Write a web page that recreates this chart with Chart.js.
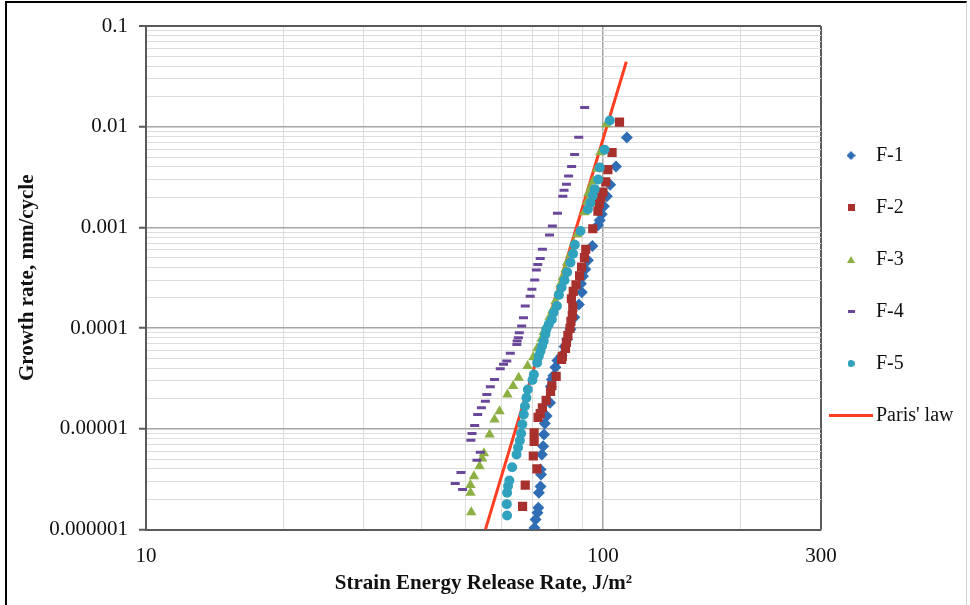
<!DOCTYPE html>
<html lang="en">
  <head>
    <meta charset="utf-8">
    <title>Growth rate vs strain energy release rate</title>
    <script src="https://cdn.jsdelivr.net/npm/chart.js@4.4.1/dist/chart.umd.min.js"></script>
    <style>
      body { margin: 0; background: #fff; }
      #wrap { position: relative; width: 970px; height: 605px; }
      #frame { position: absolute; left: 5px; top: 1px; width: 959px; height: 604px;
               border-left: 2px solid #000; border-top: 2px solid #000; border-right: 1px solid #d0d0d0;
               pointer-events: none; }
    </style>
  </head>
  <body>
    <div id="wrap">
      <canvas id="myChart" width="970" height="605"></canvas>
      <div id="frame"></div>
    </div>
    <script>
      // axis ticks
      const xTickValues = [10, 100, 300];
      const xTickLabels = ['10', '100', '300'];
      const yTickValues = [0.000001, 0.00001, 0.0001, 0.001, 0.01, 0.1];
      const yTickLabels = ['0.000001', '0.00001', '0.0001', '0.001', '0.01', '0.1'];

      // series
      const seriesNames = ['F-1', 'F-2', 'F-3', 'F-4', 'F-5', "Paris' law"];

      const f1X = [112.8, 106.8, 103.7, 102.0, 100.5, 99.4, 98.4, 97.5, 94.8, 92.7, 91.5, 90.4, 89.5, 89.9, 88.6, 86.6, 84.9, 83.5, 82.4, 81.2,
                   79.5, 78.7, 77.9, 77.3, 76.9, 76.6, 75.3, 74.6, 74.3, 74.0, 73.5, 73.0, 73.2, 73.0, 72.4, 72.2, 71.9, 71.2, 70.8];
      const f1Y = [0.00783, 0.00403, 0.00266, 0.00204, 0.001624, 0.001353, 0.001179, 0.001052, 0.000655, 0.000472, 0.000384, 0.000327,
                   0.000276, 0.000227, 0.000172, 0.000128, 9.73e-5, 7.74e-5, 6.59e-5, 5.31e-5, 4.78e-5, 4.08e-5, 3.36e-5, 3.10e-5, 2.64e-5,
                   1.82e-5, 1.34e-5, 1.13e-5, 8.8e-6, 6.73e-6, 5.56e-6, 3.95e-6, 3.52e-6, 2.68e-6, 2.32e-6, 1.65e-6, 1.47e-6, 1.26e-6, 1.04e-6];

      const f2X = [108.7, 104.7, 102.5, 101.4, 100.0, 98.9, 98.2, 97.5, 95.0, 91.7, 91.1, 89.8, 88.9, 87.3, 86.1, 85.3, 85.9, 85.7, 85.1,
                   84.7, 83.8, 83.2, 82.8, 81.5, 81.2, 79.0, 77.3, 76.8, 75.1, 73.7, 72.9, 72.1, 70.7, 70.7, 70.4, 71.7, 67.6, 66.7];
      const f2Y = [0.01111, 0.00555, 0.00375, 0.00283, 0.00224, 0.00198, 0.00172, 0.001449, 0.000971, 0.000607, 0.000502, 0.000405,
                   0.000330, 0.000269, 0.000232, 0.000196, 0.000161, 0.000134, 0.000117, 9.95e-5, 8.48e-5, 7.22e-5, 6.30e-5, 5.24e-5,
                   4.90e-5, 3.32e-5, 2.68e-5, 2.35e-5, 1.92e-5, 1.62e-5, 1.42e-5, 1.30e-5, 9.15e-6, 7.50e-6, 5.38e-6, 4.00e-6, 2.77e-6, 1.70e-6];

      const f3X = [101.7, 98.7, 97.1, 95.2, 94.1, 92.9, 92.3, 91.1, 87.8, 86.3, 84.9, 83.5, 82.8, 81.7, 80.7, 79.9, 78.7, 77.5, 76.4,
                   75.2, 74.2, 73.4, 71.8, 70.4, 68.4, 65.4, 63.6, 61.8, 59.4, 57.9, 56.5, 54.9, 54.4, 53.7, 52.2, 51.3, 51.3, 51.5];
      const f3Y = [0.01061, 0.00559, 0.00383, 0.00288, 0.00251, 0.00219, 0.00180, 0.001416, 0.000856, 0.000692, 0.000541, 0.000448,
                   0.000384, 0.000322, 0.000273, 0.000227, 0.000185, 0.000150, 0.000128, 0.000105, 9.15e-5, 7.86e-5, 6.30e-5, 5.13e-5,
                   4.22e-5, 3.22e-5, 2.66e-5, 2.20e-5, 1.50e-5, 1.24e-5, 8.8e-6, 5.73e-6, 5.08e-6, 4.26e-6, 3.39e-6, 2.77e-6, 2.32e-6, 1.49e-6];

      const f4X = [91.2, 88.5, 86.7, 85.4, 84.1, 83.2, 82.2, 81.7, 79.5, 77.5, 76.4, 73.7, 72.9, 72.0, 71.5, 70.9, 69.9, 69.3, 67.6, 67.0,
                   66.4, 65.6, 65.3, 64.9, 64.8, 62.7, 61.6, 60.6, 59.6, 57.9, 56.7, 55.7, 55.3, 54.2, 53.2, 52.4, 51.7, 51.4, 53.9, 53.0,
                   48.9, 47.5, 49.3];
      const f4Y = [0.01556, 0.00788, 0.00530, 0.00403, 0.00325, 0.00269, 0.00234, 0.00204, 0.001384, 0.001035, 0.000842, 0.000607,
                   0.000491, 0.000428, 0.000378, 0.000301, 0.000243, 0.000207, 0.000166, 0.000127, 0.000105, 9.02e-5, 8.04e-5, 7.44e-5,
                   6.90e-5, 5.62e-5, 4.71e-5, 4.37e-5, 3.96e-5, 3.10e-5, 2.62e-5, 2.20e-5, 1.88e-5, 1.62e-5, 1.39e-5, 1.08e-5, 9.0e-6,
                   7.72e-6, 5.87e-6, 4.89e-6, 3.69e-6, 2.87e-6, 2.50e-6];

      const f5X = [103.5, 100.8, 98.4, 97.6, 95.9, 95.0, 93.9, 92.7, 89.3, 86.8, 86.0, 84.9, 83.5, 82.4, 81.2, 80.1, 79.3, 78.0, 77.3,
                   76.1, 75.2, 74.8, 74.2, 73.6, 73.0, 72.4, 71.8, 70.6, 70.1, 68.5, 68.0, 67.5, 67.1, 66.6, 66.2, 65.8, 65.2, 64.7, 63.3,
                   62.4, 62.0, 61.7, 61.6, 61.7];
      const f5Y = [0.01155, 0.00592, 0.00394, 0.00299, 0.00240, 0.00207, 0.00176, 0.001517, 0.000923, 0.000673, 0.000548, 0.000448,
                   0.000359, 0.000299, 0.000253, 0.000214, 0.000166, 0.000143, 0.000122, 0.000109, 9.73e-5, 8.68e-5, 7.44e-5, 6.64e-5,
                   5.92e-5, 5.28e-5, 4.54e-5, 3.47e-5, 3.06e-5, 2.46e-5, 2.04e-5, 1.68e-5, 1.39e-5, 1.11e-5, 9.0e-6, 7.67e-6, 6.53e-6,
                   5.56e-6, 4.16e-6, 3.07e-6, 2.71e-6, 2.32e-6, 1.79e-6, 1.38e-6];

      const parisX = [55.3, 112.5];
      const parisY = [0.000001, 0.0442];

      const colors = ['#2f6db5', '#a8312e', '#8cb043', '#6b479b', '#30a2be', '#ff3e22'];

      function pts(xs, ys) {
        return xs.map((x, i) => ({x: x, y: ys[i]}));
      }

      // grid positions: 1..9 within each decade
      function logGrid(lo, hi) {
        const out = [];
        for (let d = lo; d < hi * 1.0001; d *= 10) {
          for (let k = 1; k < 10; k++) {
            const v = +(k * d).toPrecision(6);
            if (v >= lo && v <= hi * 1.0001) out.push(v);
          }
        }
        return out;
      }
      const xGrid = logGrid(10, 300);
      const yGrid = logGrid(0.000001, 0.1);

      // small legend markers drawn at their own size
      function marker(w, h, draw) {
        const c = document.createElement('canvas');
        c.width = w; c.height = h;
        draw(c.getContext('2d'));
        return c;
      }
      const legendMarks = [
        marker(9, 9, g => { g.fillStyle = colors[0]; g.beginPath(); g.moveTo(4.5, 0); g.lineTo(9, 4.5); g.lineTo(4.5, 9); g.lineTo(0, 4.5); g.fill(); }),
        marker(7, 7, g => { g.fillStyle = colors[1]; g.fillRect(0, 0, 7, 7); }),
        marker(8, 7, g => { g.fillStyle = colors[2]; g.beginPath(); g.moveTo(4, 0); g.lineTo(8, 7); g.lineTo(0, 7); g.fill(); }),
        marker(7, 3, g => { g.fillStyle = colors[3]; g.fillRect(0, 0, 7, 3); }),
        marker(7, 7, g => { g.fillStyle = colors[4]; g.beginPath(); g.arc(3.5, 3.5, 3.5, 0, Math.PI * 2); g.fill(); }),
        marker(44, 3, g => { g.fillStyle = colors[5]; g.fillRect(0, 0, 44, 3); })
      ];

      const legendShift = {
        id: 'legendShift',
        afterLayout(chart) {
          const lg = chart.legend;
          lg.left -= 17; lg.right -= 17;
          lg.top -= 26; lg.bottom -= 26;
        }
      };

      Chart.defaults.font.family = "'Liberation Serif', 'Times New Roman', serif";
      Chart.defaults.color = '#111';

      const styles = ['rectRot', 'rect', 'triangle', 'line', 'circle'];
      const radii = [6, 6.5, 6, 4.5, 5];
      const xs = [f1X, f2X, f3X, f4X, f5X];
      const ys = [f1Y, f2Y, f3Y, f4Y, f5Y];

      const datasets = xs.map((x, i) => ({
        label: seriesNames[i],
        data: pts(x, ys[i]),
        pointStyle: styles[i],
        pointRadius: radii[i],
        pointHoverRadius: radii[i],
        backgroundColor: colors[i],
        borderColor: colors[i],
        pointBorderWidth: styles[i] === 'line' ? 3 : 0,
        showLine: false,
        order: 5 - i
      }));
      datasets.push({
        label: seriesNames[5],
        type: 'line',
        data: pts(parisX, parisY),
        borderColor: colors[5],
        backgroundColor: colors[5],
        borderWidth: 3,
        pointRadius: 0,
        showLine: true,
        order: 6
      });

      const edgeColor = '#5a5a5a';
      const majorColor = '#a6a6a6';
      const minorColor = '#dcdcdc';

      new Chart(document.getElementById('myChart'), {
        type: 'scatter',
        data: { datasets: datasets },
        plugins: [legendShift],
        options: {
          responsive: false,
          animation: false,
          layout: { padding: { left: 8, top: 26, right: 0, bottom: 8 } },
          plugins: {
            tooltip: { enabled: false },
            legend: {
              position: 'right',
              maxWidth: 149,
              labels: {
                usePointStyle: true,
                pointStyleWidth: 30,
                padding: 32,
                color: '#111',
                font: { size: 20 },
                sort: (a, b) => a.datasetIndex - b.datasetIndex,
                generateLabels: chart => {
                  const items = Chart.defaults.plugins.legend.labels.generateLabels(chart);
                  items.forEach(it => { it.pointStyle = legendMarks[it.datasetIndex]; });
                  return items;
                }
              }
            }
          },
          scales: {
            x: {
              type: 'logarithmic',
              min: 10,
              max: 300,
              afterBuildTicks: s => { s.ticks = xGrid.map(v => ({value: v})); },
              ticks: {
                autoSkip: false,
                maxRotation: 0,
                padding: 14,
                font: { size: 21 },
                color: '#111',
                callback: v => { const i = xTickValues.indexOf(v); return i >= 0 ? xTickLabels[i] : ''; }
              },
              grid: {
                drawTicks: false,
                color: c => c.tick.value === 300 ? edgeColor : (xTickValues.includes(c.tick.value) ? majorColor : minorColor),
                lineWidth: c => c.tick.value === 300 ? 2 : (xTickValues.includes(c.tick.value) ? 1.5 : 1)
              },
              border: { color: edgeColor, width: 2 },
              title: {
                display: true,
                text: 'Strain Energy Release Rate, J/m\u00b2',
                font: { size: 21, weight: 'bold' },
                color: '#111',
                padding: { top: -12, bottom: 1 }
              }
            },
            y: {
              type: 'logarithmic',
              min: 0.000001,
              max: 0.1,
              afterBuildTicks: s => { s.ticks = yGrid.map(v => ({value: v})); },
              ticks: {
                autoSkip: false,
                padding: 11,
                font: { size: 21 },
                color: '#111',
                callback: v => { const i = yTickValues.indexOf(v); return i >= 0 ? yTickLabels[i] : ''; }
              },
              grid: {
                tickLength: 7,
                tickColor: c => yTickValues.includes(c.tick.value) ? edgeColor : 'rgba(0,0,0,0)',
                tickWidth: 2,
                color: c => c.tick.value === 0.1 ? edgeColor : (yTickValues.includes(c.tick.value) ? majorColor : minorColor),
                lineWidth: c => c.tick.value === 0.1 ? 2 : (yTickValues.includes(c.tick.value) ? 1.5 : 1)
              },
              border: { color: edgeColor, width: 2 },
              title: {
                display: true,
                text: 'Growth rate, mm/cycle',
                font: { size: 21, weight: 'bold' },
                color: '#111',
                padding: { top: 7, bottom: -2 }
              }
            }
          }
        }
      });
    </script>
  </body>
</html>
